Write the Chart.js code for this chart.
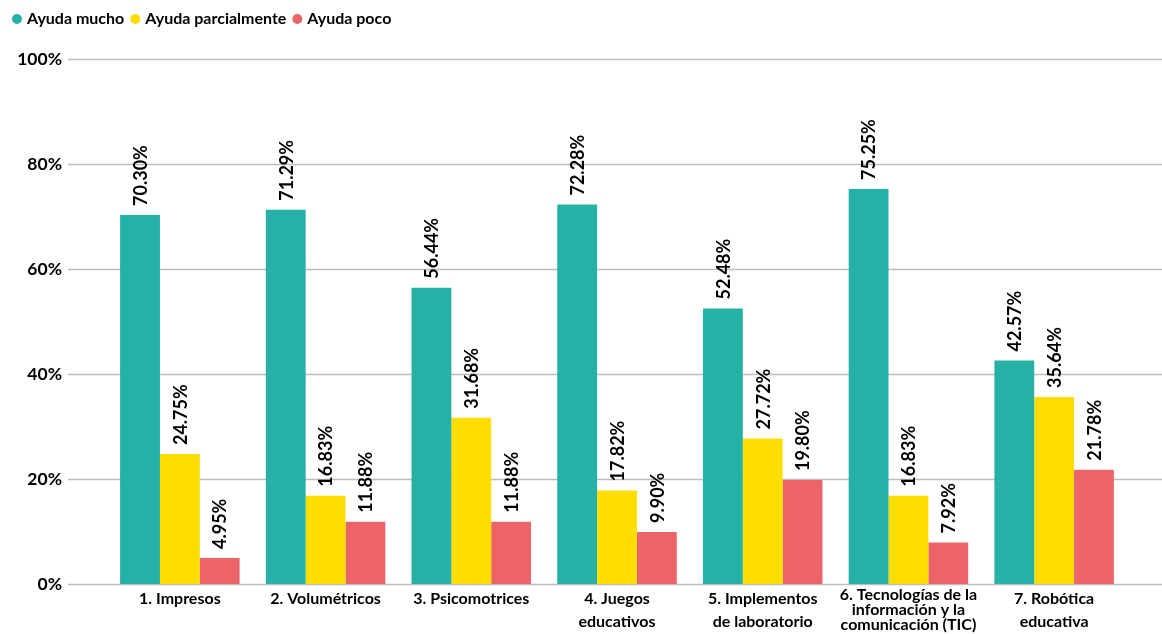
<!DOCTYPE html>
<html>
<head>
<meta charset="utf-8">
<script src="https://cdn.jsdelivr.net/npm/chart.js@4"></script>
<style>
  html, body { margin: 0; padding: 0; background: #ffffff; }
  #wrap { width: 1162px; height: 634px; position: relative; }
</style>
</head>
<body>
<div id="wrap"><canvas id="c" width="1162" height="634"></canvas></div>
<script>
const categories = [
  "1. Impresos",
  "2. Volumétricos",
  "3. Psicomotrices",
  ["4. Juegos", "educativos"],
  ["5. Implementos", "de laboratorio"],
  ["6. Tecnologías de la", "información y la", "comunicación (TIC)"],
  ["7. Robótica", "educativa"]
];
const seriesNames = ["Ayuda mucho", "Ayuda parcialmente", "Ayuda poco"];
const ayudaMucho = [70.30, 71.29, 56.44, 72.28, 52.48, 75.25, 42.57];
const ayudaParcialmente = [24.75, 16.83, 31.68, 17.82, 27.72, 16.83, 35.64];
const ayudaPoco = [4.95, 11.88, 11.88, 9.90, 19.80, 7.92, 21.78];
const yTicks = [0, 20, 40, 60, 80, 100];

const colors = ["#26B1A7", "#FFDD00", "#EC6467"];
const FONT = "Lato, 'Open Sans', sans-serif";

const gridPlugin = {
  id: 'extGrid',
  beforeDatasetsDraw(chart) {
    const ctx = chart.ctx;
    const y = chart.scales.y;
    ctx.save();
    ctx.strokeStyle = '#BDBDBD';
    ctx.lineWidth = 1.5;
    yTicks.forEach(v => {
      const py = Math.round(y.getPixelForValue(v)) + 0.5;
      ctx.beginPath();
      ctx.moveTo(68, py);
      ctx.lineTo(chart.width, py);
      ctx.stroke();
    });
    ctx.restore();
  }
};

const labelPlugin = {
  id: 'barLabels',
  afterDatasetsDraw(chart) {
    const ctx = chart.ctx;
    ctx.save();
    ctx.fillStyle = '#000000';
    ctx.font = "bold 18px " + FONT;
    ctx.textAlign = 'left';
    ctx.textBaseline = 'middle';
    chart.data.datasets.forEach((ds, di) => {
      const meta = chart.getDatasetMeta(di);
      meta.data.forEach((bar, i) => {
        const txt = ds.data[i].toFixed(2) + '%';
        ctx.save();
        ctx.translate(bar.x + 1, bar.y - 9);
        ctx.rotate(-Math.PI / 2);
        ctx.fillText(txt, 0, 0);
        ctx.restore();
      });
    });
    ctx.restore();
  }
};

const legendPlugin = {
  id: 'topLegend',
  afterDraw(chart) {
    const ctx = chart.ctx;
    ctx.save();
    ctx.font = "bold 16px " + FONT;
    ctx.textBaseline = 'middle';
    ctx.textAlign = 'left';
    let x = 27;
    const cy = 19;
    chart.data.datasets.forEach((ds) => {
      ctx.fillStyle = ds.backgroundColor;
      ctx.beginPath();
      ctx.arc(x - 10, cy, 5, 0, Math.PI * 2);
      ctx.fill();
      ctx.fillStyle = '#000000';
      ctx.fillText(ds.label, x, cy);
      x += ctx.measureText(ds.label).width + 21;
    });
    ctx.restore();
  }
};

new Chart(document.getElementById('c'), {
  type: 'bar',
  data: {
    labels: categories,
    datasets: [
      { label: seriesNames[0], data: ayudaMucho, backgroundColor: colors[0] },
      { label: seriesNames[1], data: ayudaParcialmente, backgroundColor: colors[1] },
      { label: seriesNames[2], data: ayudaPoco, backgroundColor: colors[2] }
    ]
  },
  options: {
    responsive: false,
    animation: false,
    devicePixelRatio: 1,
    layout: { padding: { left: 0, right: 35, top: 59, bottom: 0 } },
    datasets: { bar: { categoryPercentage: 0.82, barPercentage: 1.0, borderWidth: 0 } },
    plugins: {
      legend: { display: false },
      tooltip: { enabled: false }
    },
    scales: {
      x: {
        grid: { display: false, drawTicks: false },
        border: { display: false },
        ticks: {
          color: '#000000',
          padding: 3,
          maxRotation: 0,
          autoSkip: false,
          font: (ctx) => ({ family: FONT, size: 16, weight: 'bold', lineHeight: (ctx.index === 5 ? 0.95 : 1.45) })
        },
        afterFit(scale) { scale.height = 50; }
      },
      y: {
        min: 0,
        max: 100,
        grid: { display: false, drawTicks: false },
        border: { display: false },
        ticks: {
          stepSize: 20,
          padding: 45,
          color: '#000000',
          font: { family: FONT, size: 17.5, weight: 'bold', lineHeight: 0.2 },
          callback: (v) => v + '%'
        },
        afterFit(scale) { scale.width = 107; }
      }
    }
  },
  plugins: [gridPlugin, labelPlugin, legendPlugin]
});
</script>
</body>
</html>
